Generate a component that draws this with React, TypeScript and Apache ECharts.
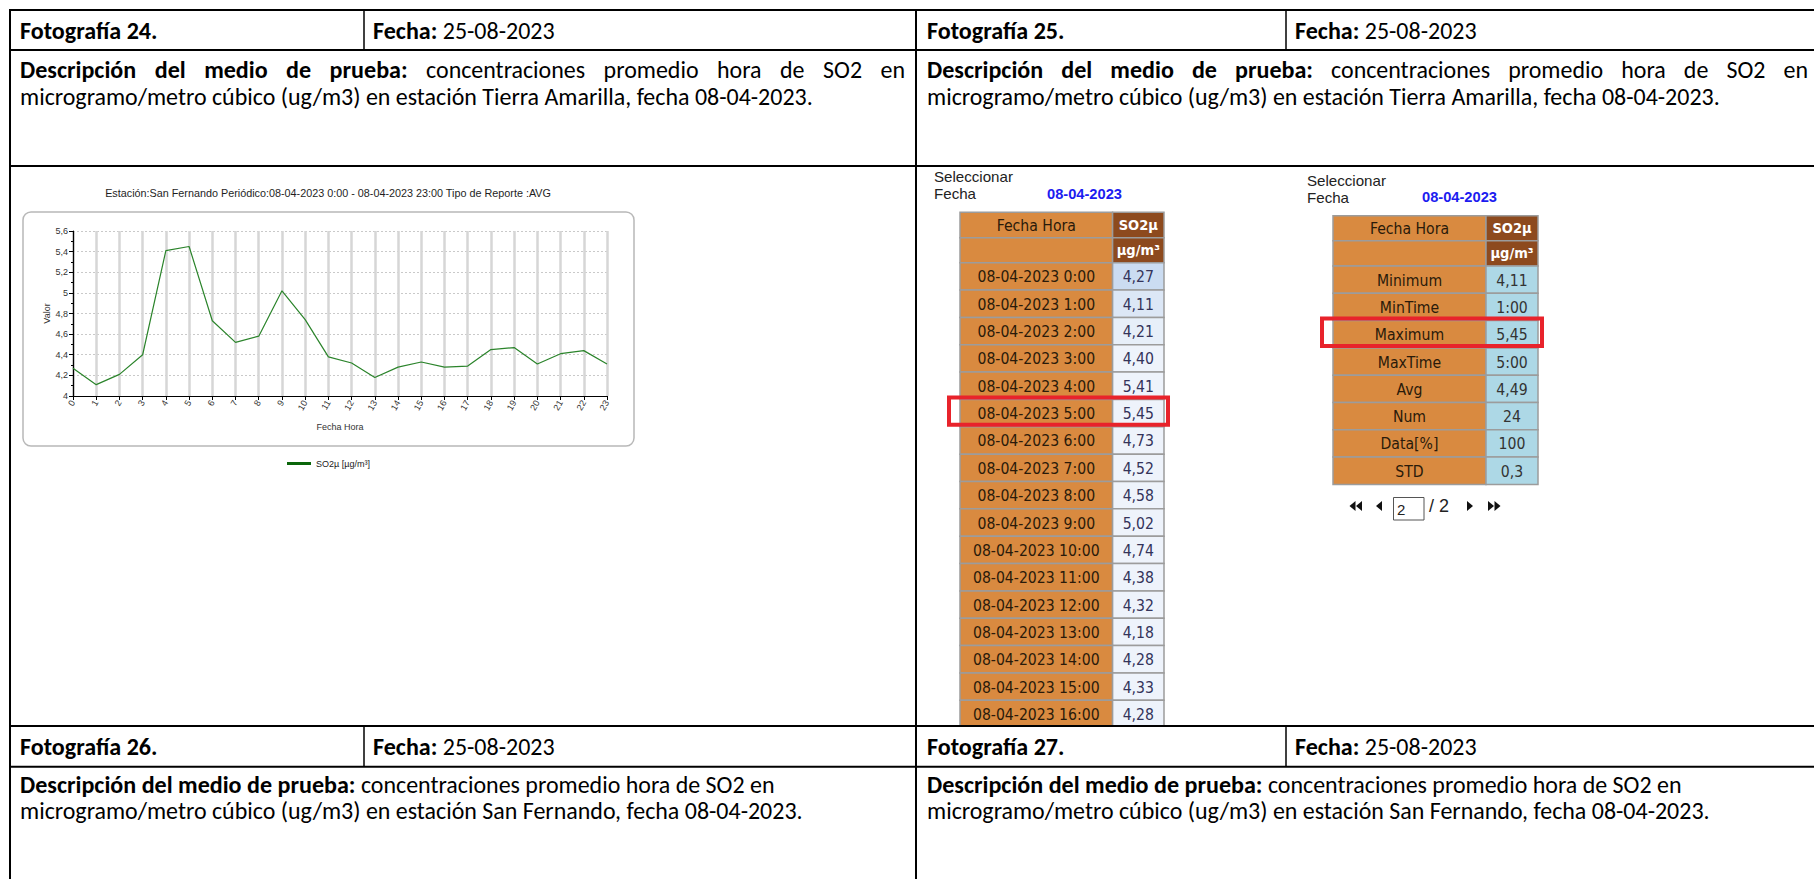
import React, { useEffect, useRef } from "react";
import * as echarts from "echarts";

// ---------- data ----------
const hours = [0, 1, 2, 3, 4, 5, 6, 7, 8, 9, 10, 11, 12, 13, 14, 15, 16, 17, 18, 19, 20, 21, 22, 23];
const so2Values = [4.27, 4.11, 4.21, 4.40, 5.41, 5.45, 4.73, 4.52, 4.58, 5.02, 4.74, 4.38, 4.32, 4.18, 4.28, 4.33, 4.28, 4.29, 4.45, 4.47, 4.31, 4.41, 4.44, 4.31];
const yMin = 4;
const yMax = 5.6;
const yStep = 0.2;
const measureDate = "08-04-2023";
const visibleTableRows = 17;
const statLabels = ["Minimum", "MinTime", "Maximum", "MaxTime", "Avg", "Num", "Data[%]", "STD"];
const statValues = ["4,11", "1:00", "5,45", "5:00", "4,49", "24", "100", "0,3"];
const highlightedStat = "Maximum";
const photoNumbers = [24, 25, 26, 27];
const photoDate = "25-08-2023";
const photoStations = ["Tierra Amarilla", "Tierra Amarilla", "San Fernando", "San Fernando"];
const chartTitle = "Estación:San Fernando Periódico:08-04-2023 0:00 - 08-04-2023 23:00 Tipo de Reporte :AVG";
const seriesName = "SO2µ [µg/m³]";
const unitLabel = "µg/m³";
const pollutantLabel = "SO2µ";
const pageCurrent = "2";
const pageTotal = "2";

// ---------- helpers ----------
const DOC = "Carlito, Lato, 'Noto Sans', sans-serif";
const TBL = "'DejaVu Sans Condensed', 'DejaVu Sans', sans-serif";
const ARIAL = "'Liberation Sans', Arial, sans-serif";
const NARROW = "'Liberation Sans Narrow', 'Liberation Sans', Arial, sans-serif";

let ctx: CanvasRenderingContext2D | null = null;
function measure(text: string, font: string) {
  if (!ctx) ctx = document.createElement("canvas").getContext("2d");
  ctx!.font = font;
  return ctx!.measureText(text).width;
}
function fit(text: string, weight: string, family: string, target: number) {
  return (100 * target) / measure(text, `${weight} 100px ${family}`);
}
const fnt = (w: string, s: number, f: string) => `${w} ${s.toFixed(2)}px ${f}`;

function txt(text: string, x: number, y: number, font: string, fill = "#000", align = "left", z = 20) {
  return {
    type: "text",
    x,
    y,
    z,
    silent: true,
    style: { text, font, fill, textAlign: align, textVerticalAlign: "middle", align, verticalAlign: "middle" },
  };
}
function ln(x1: number, y1: number, x2: number, y2: number, w = 2, c = "#000", z = 40) {
  return { type: "line", z, silent: true, shape: { x1, y1, x2, y2 }, style: { stroke: c, lineWidth: w } };
}
function box(x: number, y: number, w: number, h: number, fill: string, stroke = "#9c9c9c", lw = 1.5, z = 10) {
  return { type: "rect", z, silent: true, shape: { x, y, width: w, height: h }, style: { fill, stroke, lineWidth: lw } };
}
const fmtComma = (v: number, d: number) => v.toFixed(d).replace(".", ",");

function buildGraphics() {
  const els: any[] = [];
  const sN = fit("microgramo/metro cúbico (ug/m3) en estación Tierra Amarilla, fecha 08-04-2023.", "normal", DOC, 793);
  const sB = (fit("Fotografía 24.", "bold", DOC, 137) + fit("Descripción del medio de prueba:", "bold", DOC, 337)) / 2;
  const fN = fnt("normal", sN, DOC);
  const fB = fnt("bold", sB, DOC);

  // table frame
  const L = 10, M = 916, R = 1840;
  const rowsY = [10, 50, 166, 726, 766.7];
  const hdrDiv = [364, 1286];
  rowsY.forEach((y) => els.push(ln(L, y, R, y, 2)));
  els.push(ln(L, 9, L, 900, 2));
  els.push(ln(M, 9, M, 900, 2));
  hdrDiv.forEach((x) => {
    els.push(ln(x, 10, x, 50, 1.5));
    els.push(ln(x, 726, x, 766.7, 1.5));
  });

  const colX = [20, 927];
  const colEnd = [905, 1808];
  photoNumbers.forEach((num, i) => {
    const col = i % 2;
    const top = i < 2 ? 10 : 726;
    const hdrY = top + 20.3;
    els.push(txt(`Fotografía ${num}.`, colX[col], hdrY, fB));
    const fx = hdrDiv[col] + 9;
    els.push(txt("Fecha:", fx, hdrY, fB));
    els.push(txt(" " + photoDate, fx + measure("Fecha:", fB), hdrY, fN));
    const l1 = top + 40 + (i < 2 ? 19.5 : 18);
    const l2 = l1 + 26.5;
    const boldWords = ["Descripción", "del", "medio", "de", "prueba:"];
    const normWords = ["concentraciones", "promedio", "hora", "de", "SO2", "en"];
    if (i < 2) {
      // justified first line
      const words = [...boldWords.map((w) => ({ w, f: fB })), ...normWords.map((w) => ({ w, f: fN }))];
      const widths = words.map((o) => measure(o.w, o.f));
      const total = widths.reduce((a, b) => a + b, 0);
      const gap = (colEnd[col] - colX[col] - total) / (words.length - 1);
      let x = colX[col];
      words.forEach((o, k) => {
        els.push(txt(o.w, x, l1, o.f));
        x += widths[k] + gap;
      });
    } else {
      const b = "Descripción del medio de prueba:";
      els.push(txt(b, colX[col], l1, fB));
      els.push(txt(" " + normWords.join(" "), colX[col] + measure(b, fB), l1, fN));
    }
    els.push(
      txt(`microgramo/metro cúbico (ug/m3) en estación ${photoStations[i]}, fecha ${measureDate}.`, colX[col], l2, fN)
    );
  });

  // chart frame + title
  els.push({
    type: "rect",
    z: -5,
    silent: true,
    shape: { x: 23, y: 212, width: 611, height: 234, r: 8 },
    style: { fill: "#fff", stroke: "#b8b8b8", lineWidth: 1.5 },
  });
  const sT = fit(chartTitle, "normal", ARIAL, 446);
  els.push(txt(chartTitle, 328, 192.5, fnt("normal", sT, ARIAL), "#1e1e1e", "center"));

  // ---- screenshot tables ----
  const sSel = fit("Seleccionar", "normal", ARIAL, 79);
  const fSel = fnt("normal", sSel, ARIAL);
  const sDate = fit(measureDate, "bold", NARROW, 75);
  const fDate = fnt("bold", sDate, NARROW);
  const sCell = fit("08-04-2023 15:00", "normal", TBL, 126.7);
  const fCell = fnt("normal", sCell, TBL);
  const fCellB = fnt("bold", sCell * 0.93, TBL);
  const ORANGE = "#d98a40";
  const BROWN = "#8d4a1e";

  function drawTable(
    x0: number, xd: number, x1: number, yTop: number, h1: number, h2: number, rowH: number,
    labels: string[], values: string[], valFills: string[], valColor: string, redIndex: number
  ) {
    const wl = xd - x0, wr = x1 - xd;
    els.push(box(x0, yTop, wl, h1, ORANGE));
    els.push(box(xd, yTop, wr, h1, BROWN));
    els.push(box(x0, yTop + h1, wl, h2, ORANGE));
    els.push(box(xd, yTop + h1, wr, h2, BROWN));
    els.push(txt("Fecha Hora", x0 + wl / 2, yTop + h1 / 2, fCell, "#2a1a0a", "center"));
    els.push(txt(pollutantLabel, xd + wr / 2, yTop + h1 / 2, fCellB, "#ffffff", "center"));
    els.push(txt(unitLabel, xd + wr / 2, yTop + h1 + h2 / 2, fCellB, "#ffffff", "center"));
    const y0 = yTop + h1 + h2;
    labels.forEach((lab, k) => {
      const y = y0 + k * rowH;
      els.push(box(x0, y, wl, rowH, ORANGE));
      els.push(box(xd, y, wr, rowH, valFills[k]));
      els.push(txt(lab, x0 + wl / 2, y + rowH / 2 + 0.5, fCell, "#2a1a0a", "center"));
      els.push(txt(values[k], xd + wr / 2, y + rowH / 2 + 0.5, fCell, valColor, "center"));
    });
    if (redIndex >= 0) {
      const y = y0 + redIndex * rowH;
      els.push({
        type: "rect",
        z: 35,
        silent: true,
        shape: { x: x0 - 11, y: y - 2, width: x1 - x0 + 15, height: rowH },
        style: { fill: "none", stroke: "#e8232b", lineWidth: 4 },
      });
    }
  }

  // table 1 (hourly)
  els.push(txt("Seleccionar", 934, 176.7, fSel, "#222"));
  els.push(txt("Fecha", 934, 193.7, fSel, "#222"));
  els.push(txt(measureDate, 1047, 193.7, fDate, "#1c1cf0"));
  const t1Hours = hours.slice(0, visibleTableRows);
  const t1Labels = t1Hours.map((h) => `${measureDate} ${h}:00`);
  const t1Values = so2Values.slice(0, visibleTableRows).map((v) => fmtComma(v, 2));
  const t1Fills = t1Values.map((_, k) => ["#cbdcf1", "#dce7f6", "#e7eff9"][k] || "#eef3fb");
  const maxIdx = so2Values.indexOf(Math.max(...so2Values));
  drawTable(960, 1112.6, 1164, 212.3, 25.4, 25, 27.35, t1Labels, t1Values, t1Fills, "#34345a", maxIdx);
  // the screenshot is cut at the row border
  els.push({ type: "rect", z: 30, silent: true, shape: { x: 940, y: 726.5, width: 260, height: 3 }, style: { fill: "#fff" } });

  // table 2 (stats)
  els.push(txt("Seleccionar", 1307, 180, fSel, "#222"));
  els.push(txt("Fecha", 1307, 197.3, fSel, "#222"));
  els.push(txt(measureDate, 1422, 197.3, fDate, "#1c1cf0"));
  drawTable(
    1333, 1486, 1538, 215.7, 25, 25.3, 27.3, statLabels, statValues,
    statValues.map(() => "#add8e6"), "#333", statLabels.indexOf(highlightedStat)
  );

  // pagination
  const py = 506;
  const tri = (pts: number[][]) => ({ type: "polygon", z: 20, silent: true, shape: { points: pts }, style: { fill: "#111" } });
  els.push(tri([[1355.5, py - 5], [1355.5, py + 5], [1349.5, py]]));
  els.push(tri([[1362, py - 5], [1362, py + 5], [1356, py]]));
  els.push(tri([[1382, py - 5], [1382, py + 5], [1376, py]]));
  els.push({
    type: "rect", z: 20, silent: true,
    shape: { x: 1393.5, y: 497.5, width: 30.5, height: 22.5 },
    style: { fill: "#fff", stroke: "#555", lineWidth: 1 },
  });
  els.push(txt(pageCurrent, 1397, 509, fnt("normal", 15, ARIAL), "#222"));
  els.push(txt(`/ ${pageTotal}`, 1429, 506, fnt("normal", 18, ARIAL), "#222"));
  els.push(tri([[1467, py - 5], [1467, py + 5], [1473, py]]));
  els.push(tri([[1488, py - 5], [1488, py + 5], [1494, py]]));
  els.push(tri([[1494.5, py - 5], [1494.5, py + 5], [1500.5, py]]));
  return els;
}

function buildOption() {
  return {
    animation: false,
    backgroundColor: "#fff",
    textStyle: { fontFamily: ARIAL },
    grid: { left: 73, right: 1814 - 607, top: 231, bottom: 879 - 396, containLabel: false },
    legend: {
      left: 287,
      top: 459,
      padding: 0,
      icon: "rect",
      itemWidth: 24,
      itemHeight: 3,
      itemGap: 4,
      textStyle: { fontSize: 9, color: "#222", fontFamily: ARIAL },
      data: [{ name: seriesName, itemStyle: { color: "#0b660b" } }],
    },
    xAxis: {
      type: "category",
      boundaryGap: false,
      data: hours.map(String),
      name: "Fecha Hora",
      nameLocation: "middle",
      nameGap: 26,
      nameTextStyle: { fontSize: 9, color: "#333" },
      axisLine: { lineStyle: { color: "#000", width: 1.2 } },
      axisTick: { show: true, length: 4, lineStyle: { color: "#000" } },
      axisLabel: { rotate: 60, fontSize: 9, color: "#333", margin: 5, interval: 0 },
      splitLine: { show: true, lineStyle: { color: "#d6d6d6", width: 2.5 } },
    },
    yAxis: {
      type: "value",
      min: yMin,
      max: yMax,
      interval: yStep,
      name: "Valor",
      nameLocation: "middle",
      nameRotate: 90,
      nameGap: 22,
      nameTextStyle: { fontSize: 9, color: "#333" },
      axisLine: { show: true, lineStyle: { color: "#000", width: 1.2 } },
      axisTick: { show: true, length: 4, lineStyle: { color: "#000" } },
      minorTick: { show: true, splitNumber: 2, length: 2, lineStyle: { color: "#000" } },
      axisLabel: {
        fontSize: 9,
        color: "#333",
        margin: 5,
        formatter: (v: number) => String(Number(v.toFixed(1))).replace(".", ","),
      },
      splitLine: { show: true, lineStyle: { color: "#c9c9c9", width: 1, type: [2, 2] } },
    },
    series: [
      {
        name: seriesName,
        type: "line",
        data: so2Values,
        symbol: "none",
        z: 5,
        lineStyle: { color: "#2b842b", width: 1.2 },
        itemStyle: { color: "#2b842b" },
      },
    ],
    graphic: { elements: buildGraphics() },
  };
}

export default function App() {
  const ref = useRef<HTMLDivElement>(null);
  useEffect(() => {
    document.body.style.margin = "0";
    const chart = echarts.init(ref.current!, null, { renderer: "svg" });
    chart.setOption(buildOption() as any);
    return () => chart.dispose();
  }, []);
  return <div ref={ref} style={{ width: 1814, height: 879 }} />;
}
